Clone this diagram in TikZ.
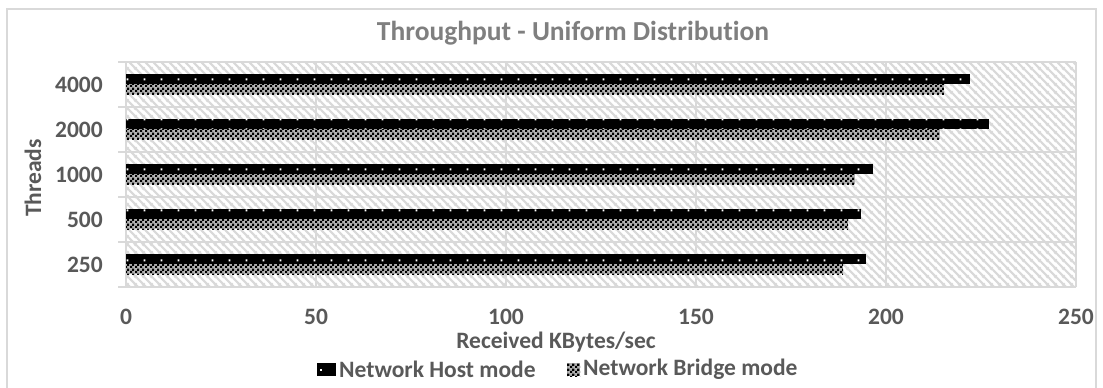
\documentclass[tikz,border=0pt]{standalone}
\usepackage{fontspec}
\setmainfont{Carlito}[Ligatures={NoCommon}]
\usetikzlibrary{patterns.meta}
\definecolor{txt}{HTML}{595959}
\definecolor{ttl}{HTML}{7F7F7F}
\definecolor{grid}{HTML}{D9D9D9}
\tikzdeclarepattern{name=bghatch, type=uncolored,
  bounding box={(0bp,0bp) and (8bp,8bp)}, tile size={(8bp,8bp)},
  code={
    \pgfsetlinewidth{2.2bp}
    \pgfpathmoveto{\pgfpoint{-1bp}{9bp}}\pgfpathlineto{\pgfpoint{9bp}{-1bp}}
    \pgfpathmoveto{\pgfpoint{-1bp}{1bp}}\pgfpathlineto{\pgfpoint{1bp}{-1bp}}
    \pgfpathmoveto{\pgfpoint{7bp}{9bp}}\pgfpathlineto{\pgfpoint{9bp}{7bp}}
    \pgfusepath{stroke}
  }}
\tikzdeclarepattern{name=checker, type=uncolored,
  bounding box={(0bp,0bp) and (5bp,5bp)}, tile size={(5bp,5bp)},
  code={
    \pgfpathrectangle{\pgfpoint{0bp}{0bp}}{\pgfpoint{2.5bp}{2.5bp}}
    \pgfpathrectangle{\pgfpoint{2.5bp}{2.5bp}}{\pgfpoint{2.5bp}{2.5bp}}
    \pgfusepath{fill}
  }}
\tikzdeclarepattern{name=dotrow, type=uncolored,
  bounding box={(0bp,0bp) and (17bp,10bp)}, tile size={(17bp,10bp)},
  code={
    \pgfpathrectangle{\pgfpoint{8bp}{7bp}}{\pgfpoint{2bp}{2bp}}
    \pgfusepath{fill}
  }}
\tikzset{
  gridline/.style={draw=grid, line width=1.5bp},
  lbl/.style={text=txt, font=\fontsize{23.5bp}{28bp}\selectfont\bfseries, inner sep=0pt},
  hostbar/.style={fill=black, draw=none},
  hostdots/.style={pattern={dotrow}, pattern color=white, draw=none},
  bridgebase/.style={fill=black!30, draw=none},
  bridgebar/.style={pattern={checker}, pattern color=black, draw=none},
}
\begin{document}
\begin{tikzpicture}[x=1bp, y=-1bp]
\useasboundingbox (0,0) rectangle (1103,387);
\fill[white] (0,0) rectangle (1103,387);
% frame
\draw[grid, line width=1.2bp] (7,9) rectangle (1096,400);
% plot background
\fill[pattern={bghatch}, pattern color=grid] (126,62) rectangle (1076,287);
% gridlines
\foreach \v in {0,50,...,250} {
  \draw[gridline] ({126+3.8*\v},62) -- ({126+3.8*\v},287);
}
\foreach \i in {0,...,5} {
  \draw[gridline] (118,{62+45*\i}) -- (1076,{62+45*\i});
}
% bars
\foreach \i/\h/\b in {0/222.1/215.3, 1/227.1/214.2, 2/196.6/191.8, 3/193.4/190.0, 4/194.7/188.7} {
  \path[hostbar] (126,{62+45*\i+12}) rectangle ({126+3.8*\h},{62+45*\i+22});
  \path[hostdots] (126,{62+45*\i+12}) rectangle ({126+3.8*\h},{62+45*\i+22});
  \path[bridgebase] (126,{62+45*\i+22}) rectangle ({126+3.8*\b},{62+45*\i+32});
  \path[bridgebar] (126,{62+45*\i+22}) rectangle ({126+3.8*\b},{62+45*\i+32});
}
% y tick labels
\foreach \i/\t in {0/4000, 1/2000, 2/1000, 3/500, 4/250} {
  \node[lbl, anchor=east] (yl\i) at (103,{62+45*\i+22.5}) {\t};
}
% x tick labels
\foreach \v in {0,50,...,250} {
  \node[lbl] (xl\v) at ({126+3.8*\v},317) {\v};
}
% axis titles
\node[lbl] (xtitle) at (556,342) {Received KBytes/sec};
\node[lbl, rotate=90] (ytitle) at (33,178) {Threads};
% chart title
\node[lbl, text=ttl, font=\fontsize{27.5bp}{32bp}\selectfont\bfseries] (title) at (573,33) {Throughput - Uniform Distribution};
% legend
\path[hostbar] (317,363) rectangle (336,376);
\path[fill=white] (320,369) rectangle (322,371);
\node[lbl, anchor=west] (leg1) at (339,369.5) {Network Host mode};
\path[bridgebase] (567,363) rectangle (580,376);
\path[bridgebar] (567,363) rectangle (580,376);
\node[lbl, anchor=west] (leg2) at (583,369.5) {Network Bridge mode};
\end{tikzpicture}
\end{document}
